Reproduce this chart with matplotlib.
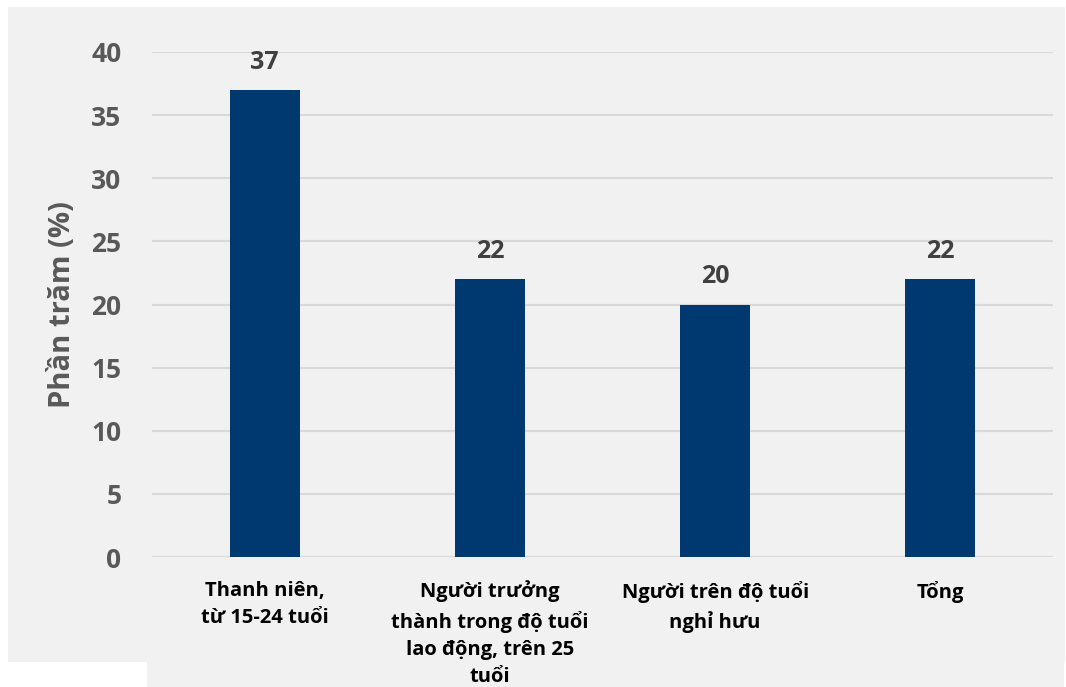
import matplotlib.pyplot as plt
from matplotlib.patches import Rectangle
import numpy as np

plt.rcParams['font.family'] = ['Open Sans', 'DejaVu Sans']

categories = [
    'Thanh niên,\ntừ 15-24 tuổi',
    'Người trưởng\nthành trong độ tuổi\nlao động, trên 25\ntuổi',
    'Người trên độ tuổi\nnghỉ hưu',
    'Tổng',
]
values = [37, 22, 20, 22]
yticks = [0, 5, 10, 15, 20, 25, 30, 35, 40]

W, H = 1066, 687
fig = plt.figure(figsize=(W / 100, H / 100), dpi=100)
fig.patch.set_facecolor('white')

# grey chart area (with a lower strip, as in the source)
bg = '#f1f1f1'
fig.patches.append(Rectangle((8 / W, (H - 662) / H), (1065 - 8) / W, (662 - 7) / H,
                             transform=fig.transFigure, facecolor=bg, edgecolor='none', zorder=-5))
fig.patches.append(Rectangle((147 / W, 0), (1064 - 147) / W, (H - 660) / H,
                             transform=fig.transFigure, facecolor=bg, edgecolor='none', zorder=-5))

ax = fig.add_axes([152 / W, (H - 557) / H, (1053 - 152) / W, (557 - 52) / H])
ax.set_facecolor('none')

x = np.arange(len(categories))
ax.bar(x, values, width=0.31, color='#003870', zorder=3)

for xi, v in zip(x, values):
    ax.annotate(str(v), (xi, v), xytext=(0, 20), textcoords='offset points',
                ha='center', va='center', fontsize=18, fontweight='bold', color='#404040')

ax.set_xlim(-0.5, len(categories) - 0.5)
ax.set_ylim(0, 40)
ax.set_yticks(yticks)
ax.set_yticklabels([str(t) for t in yticks], fontsize=19, fontweight='bold', color='#595959')
ax.set_xticks(x)
ax.set_xticklabels(categories, fontsize=14.5, fontweight='bold', color='black', linespacing=1.48)
ax.tick_params(axis='y', length=0, pad=22)
ax.tick_params(axis='x', length=0, pad=17)

ax.grid(axis='y', color='#d9d9d9', linewidth=1.5, zorder=0)
for s in ax.spines.values():
    s.set_visible(False)

ax.set_ylabel('Phần trăm (%)', fontsize=21, fontweight='bold', color='#595959')
ax.yaxis.set_label_coords(-0.083, 0.5)

fig.savefig('out.png', dpi=100, facecolor=fig.get_facecolor())
